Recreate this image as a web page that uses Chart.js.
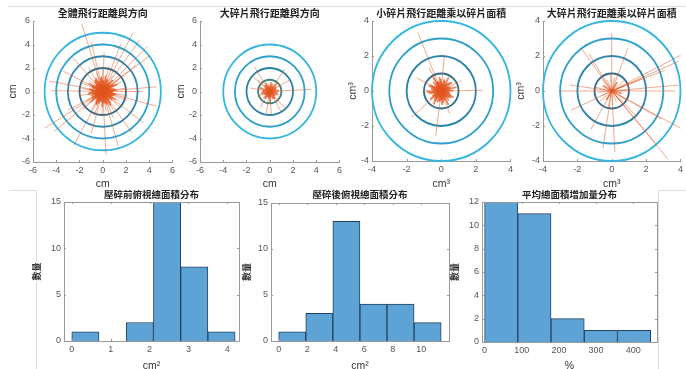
<!DOCTYPE html>
<html><head><meta charset="utf-8">
<script src="https://cdn.jsdelivr.net/npm/chart.js@4.4.0/dist/chart.umd.min.js"></script>
<style>
html,body{margin:0;padding:0;background:#fff;width:686px;height:369px;overflow:hidden;position:relative}
canvas{position:absolute}
.ln{position:absolute;background:#dedede}
</style></head><body>
<div class="ln" style="left:8px;top:6px;width:678px;height:1px"></div>
<div class="ln" style="left:9px;top:190px;width:27px;height:1px"></div>
<div class="ln" style="left:658px;top:190px;width:28px;height:1px"></div>
<div class="ln" style="left:36px;top:190px;width:1px;height:179px"></div>
<div class="ln" style="left:658px;top:190px;width:1px;height:179px"></div>
<canvas id="p1" width="178" height="190" style="left:0px;top:0px"></canvas>
<canvas id="p2" width="171" height="190" style="left:174px;top:0px"></canvas>
<canvas id="p3" width="172" height="190" style="left:344px;top:0px"></canvas>
<canvas id="p4" width="172" height="190" style="left:514px;top:0px"></canvas>
<canvas id="h1" width="214" height="186" style="left:30px;top:186px"></canvas>
<canvas id="h2" width="214" height="186" style="left:240px;top:186px"></canvas>
<canvas id="h3" width="215" height="186" style="left:447px;top:186px"></canvas>
<script>
// ---------- titles ----------
const roseTitles = ['全體飛行距離與方向','大碎片飛行距離與方向','小碎片飛行距離乘以碎片面積','大碎片飛行距離乘以碎片面積'];
const roseXLabels = ['cm','cm','cm³','cm³'];
const roseYLabels = ['cm','cm','cm³','cm³'];
const roseLimits = [6, 6, 4, 4];

// ring radii per panel
const rings1 = [2, 3, 4, 5];
const rings2 = [1, 2, 3, 4];
const rings3 = [1, 2, 3, 4];
const rings4 = [1, 2, 3, 4];

// rays: direction (deg) and length per panel
const ang1 = [3,12,22,31,44,52,63,71,84,95,103,114,125,133,146,154,167,176,185,196,204,215,226,233,244,255,264,273,286,295,304,313,324,333,345,354,
  7,17,26,35,48,57,67,79,89,99,109,118,129,138,150,160,171,181,190,200,209,220,230,239,248,259,268,278,290,299,308,318,328,338,349,358,
  8,27,38,58,76,90,108,121,140,158,172,190,210,222,238,250,268,280,292,300,318,330,340,350,
  107.5,103,88,69,62.5,54,45,37,38,5,0,169,179,153,132,212,219,208,241.5,254.5,273,286,305.5,323,345];
const len1 = [0.9,1.1,0.7,1.2,0.8,1.0,0.6,1.1,0.9,1.3,0.7,1.0,1.2,0.8,0.9,1.1,0.6,1.0,1.2,0.9,0.7,1.1,0.8,1.0,1.3,0.9,0.6,1.0,1.1,0.8,1.2,0.7,1.0,0.9,1.1,0.8,
  1.2,0.9,1.4,1.0,1.3,0.8,1.1,1.4,1.0,1.2,0.9,1.3,1.1,0.8,1.4,1.0,1.2,0.9,1.3,1.1,1.0,1.4,0.8,1.2,1.1,0.9,1.3,1.0,1.2,1.4,0.9,1.1,1.3,1.0,1.2,0.9,
  2.0,1.8,2.3,1.6,2.2,1.9,1.7,2.4,1.5,2.1,1.8,2.0,1.6,2.3,1.9,2.2,2.1,1.7,2.4,1.8,2.0,1.6,2.2,1.9,
  6.0,4.3,3.3,4.3,5.6,5.4,5.4,5.1,3.6,4.6,3.4,4.7,4.4,3.8,3.9,5.9,5.4,3.4,5.2,3.7,5.4,4.8,4.3,4.4,4.8];

const ang2 = [5,25,48,70,92,115,136,160,182,205,228,250,272,295,318,340,
  15,37,59,81,103,126,148,171,193,216,239,261,283,306,329,350,
  122,139,135,56,30,3,313,300,261,274,202,170,239];
const len2 = [0.8,0.6,0.9,0.7,0.5,0.8,0.6,0.9,0.7,0.6,0.8,0.5,0.9,0.7,0.6,0.8,
  0.6,0.7,0.5,0.8,0.6,0.7,0.5,0.6,0.8,0.5,0.7,0.6,0.5,0.8,0.6,0.7,
  2.5,2.1,1.4,2.3,2.0,3.6,1.9,2.0,2.0,2.1,1.1,1.7,1.6];

const ang3 = [2,14,27,38,50,61,75,86,98,110,121,133,146,157,169,181,193,204,216,228,239,251,263,274,286,298,309,321,333,345,
  8,20,32,44,56,68,80,92,104,116,127,139,151,163,175,187,199,210,222,234,245,257,269,280,292,304,315,327,339,351,
  112,85,1,221,263,152,118,27,291];
const len3 = [0.7,0.9,0.5,0.8,0.6,0.9,0.7,0.5,0.8,0.6,0.9,0.7,0.5,0.8,0.6,0.9,0.7,0.5,0.8,0.6,0.9,0.7,0.6,0.8,0.5,0.9,0.7,0.6,0.8,0.5,
  0.5,0.6,0.4,0.7,0.5,0.6,0.4,0.7,0.5,0.6,0.5,0.4,0.7,0.6,0.5,0.8,0.4,0.6,0.5,0.7,0.4,0.6,0.5,0.7,0.6,0.4,0.5,0.7,0.6,0.5,
  3.6,2.1,2.4,2.3,2.6,1.6,1.5,1.3,1.4];

const ang4 = [4,22,40,58,77,95,113,131,149,167,185,203,221,239,257,275,293,311,329,347,
  27,23.5,21,22,5,0,332,310,310.5,331,261,273,180,172,126,122,90,69,205,241,315];
const len4 = [0.9,0.7,1.0,0.6,0.8,1.0,0.7,0.9,0.6,1.0,0.8,0.7,0.9,0.6,1.0,0.8,0.7,0.9,1.0,0.6,
  4.6,4.25,3.3,1.9,3.9,3.7,4.65,5.1,3.9,3.3,3.3,3.5,3.1,2.5,3.0,2.5,3.3,2.6,2.6,2.5,2.1];

// ---------- histograms ----------
const histTitles = ['壓碎前俯視總面積分布','壓碎後俯視總面積分布','平均總面積增加量分布'];
const histXLabels = ['cm²','cm²','%'];
const histYLabel = '數量';
const bins1 = [0.35, 1.05, 1.75, 2.45, 3.15, 3.85];
const counts1 = [1, 0, 2, 15, 8, 1];
const bins2 = [0.95, 2.85, 4.75, 6.65, 8.55, 10.45];
const counts2 = [1, 3, 13, 4, 4, 2];
const bins3 = [44.7, 134.1, 223.5, 312.9, 402.3];
const counts3 = [12, 11, 2, 1, 1];

// ---------- styling ----------
const CJK = '"Noto Sans CJK TC","Noto Sans CJK SC",sans-serif';
const NUM = '"Liberation Sans","DejaVu Sans",sans-serif';
const tickColor = '#555';
const axisColor = '#9a9a9a';
const rayColor = 'rgba(224,88,34,0.5)';
const coreColor = 'rgba(226,84,30,0.7)';
const ringColors = {
  p1: ['#2e6e8e','#2b88b3','#2ea3cf','#35b5e0'],
  p2: ['#3f807a','#2b80a9','#2ea0cc','#35b5e0'],
  p3: ['#2c6d8e','#2a84ad','#2e9fcb','#35b5e0'],
  p4: ['#2c6d8e','#2a84ad','#2e9fcb','#35b5e0']
};

const ringPlugin = {
  id: 'rings',
  beforeDatasetsDraw(chart) {
    const o = chart.options.plugins.rings;
    if (!o) return;
    const {ctx, scales:{x, y}} = chart;
    const cx = x.getPixelForValue(0), cy = y.getPixelForValue(0);
    ctx.save();
    o.radii.forEach((r, i) => {
      const rx = Math.abs(x.getPixelForValue(r) - cx);
      const ry = Math.abs(y.getPixelForValue(r) - cy);
      ctx.beginPath();
      ctx.ellipse(cx, cy, rx, ry, 0, 0, Math.PI * 2);
      ctx.strokeStyle = o.colors[i];
      ctx.lineWidth = 1.8;
      ctx.stroke();
    });
    ctx.restore();
  }
};

const tickMarkPlugin = {
  id: 'tickmarks',
  afterDraw(chart) {
    const o = chart.options.plugins.tickmarks;
    if (!o) return;
    const {ctx, chartArea:a, scales:{x, y}} = chart;
    ctx.save();
    ctx.strokeStyle = axisColor;
    ctx.lineWidth = 1;
    if (o.box) {
      ctx.strokeRect(Math.round(a.left)+0.5, Math.round(a.top)+0.5, Math.round(a.right-a.left), Math.round(a.bottom-a.top));
    }
    ctx.beginPath();
    x.ticks.forEach(t => {
      const px = Math.round(x.getPixelForValue(t.value)) + 0.5;
      ctx.moveTo(px, a.bottom); ctx.lineTo(px, a.bottom - 2);
      if (o.box) { ctx.moveTo(px, a.top); ctx.lineTo(px, a.top + 2); }
    });
    y.ticks.forEach(t => {
      const py = Math.round(y.getPixelForValue(t.value)) + 0.5;
      ctx.moveTo(a.left, py); ctx.lineTo(a.left + 2, py);
      if (o.box) { ctx.moveTo(a.right, py); ctx.lineTo(a.right - 2, py); }
    });
    ctx.stroke();
    ctx.restore();
  }
};

function axisCommon(min, max, step, label, fitSize, isX, titlePad) {
  const isCJK = label === histYLabel;
  return {
    type: 'linear', min, max, offset: false,
    ticks: {stepSize: step, includeBounds: false, color: tickColor, font: {family: NUM, size: 9}, padding: 3, maxRotation: 0, autoSkip: false},
    grid: {display: false, drawTicks: false},
    border: {display: true, color: axisColor, width: 1},
    title: {display: true, text: label, color: '#333',
            font: {family: isCJK ? CJK : NUM, size: isCJK ? 9 : 10.5, weight: isCJK ? 'bold' : 'normal', lineHeight: 1.2},
            padding: isX ? {top: 0, bottom: titlePad} : {top: titlePad, bottom: 0}},
    afterFit(s) { if (isX) s.height = fitSize; else s.width = fitSize; }
  };
}

function makeRose(id, idx, rings, angs, lens, canvasW, canvasH, plot, ylabPad, coreMax) {
  const lim = roseLimits[idx];
  const datasets = angs.map((a, i) => ({
    data: [{x: 0, y: 0}, {x: lens[i] * Math.cos(a * Math.PI / 180), y: lens[i] * Math.sin(a * Math.PI / 180)}],
    showLine: true,
    borderColor: lens[i] <= coreMax ? coreColor : rayColor,
    borderWidth: lens[i] <= coreMax ? 1.7 : 1,
    pointRadius: 0, fill: false
  }));
  new Chart(document.getElementById(id), {
    type: 'scatter',
    data: {datasets},
    options: {
      responsive: false, animation: false, events: [],
      layout: {padding: {left: 0, right: canvasW - plot.R, top: 0, bottom: 0}},
      plugins: {
        legend: {display: false}, tooltip: {enabled: false},
        title: {display: true, text: roseTitles[idx], fullSize: false, color: '#222',
                font: {family: CJK, size: 10, weight: 'bold', lineHeight: 1.2}, padding: {top: 7, bottom: plot.T - 19}},
        rings: {radii: rings, colors: ringColors[id]},
        tickmarks: {box: false}
      },
      scales: {
        x: axisCommon(-lim, lim, 2, roseXLabels[idx], canvasH - plot.B, true, 0),
        y: axisCommon(-lim, lim, 2, roseYLabels[idx], plot.L, false, ylabPad)
      }
    },
    plugins: [ringPlugin, tickMarkPlugin]
  });
}

makeRose('p1', 0, rings1, ang1, len1, 178, 190, {L: 33, T: 21, R: 173, B: 162}, 7, 1.45);
makeRose('p2', 1, rings2, ang2, len2, 171, 190, {L: 26, T: 21, R: 166, B: 162}, 1, 0.95);
makeRose('p3', 2, rings3, ang3, len3, 172, 190, {L: 28, T: 21, R: 167, B: 161}, 3, 0.95);
makeRose('p4', 3, rings4, ang4, len4, 172, 190, {L: 29, T: 21, R: 167, B: 161}, 1, 0.6);

function makeHist(id, idx, bins, counts, xmin, xmax, xstep, ymax, ystep, canvasW, canvasH, plot, ylabPad) {
  new Chart(document.getElementById(id), {
    type: 'bar',
    data: {datasets: [{
      data: bins.map((b, i) => ({x: b, y: counts[i]})),
      backgroundColor: 'rgb(94,163,214)', borderColor: 'rgb(38,66,96)', borderWidth: 1,
      barPercentage: 1, categoryPercentage: 1
    }]},
    options: {
      responsive: false, animation: false, events: [],
      layout: {padding: {left: 0, right: canvasW - plot.R, top: 0, bottom: 0}},
      plugins: {
        legend: {display: false}, tooltip: {enabled: false},
        title: {display: true, text: histTitles[idx], fullSize: false, color: '#222',
                font: {family: CJK, size: 9.5, weight: 'bold', lineHeight: 1.2}, padding: {top: 3, bottom: plot.T - 14.4}},
        tickmarks: {box: true}
      },
      scales: {
        x: axisCommon(xmin, xmax, xstep, histXLabels[idx], canvasH - plot.B, true, 0),
        y: Object.assign(axisCommon(0, ymax, ystep, histYLabel, plot.L, false, ylabPad), {beginAtZero: true})
      }
    },
    plugins: [tickMarkPlugin]
  });
}

makeHist('h1', 0, bins1, counts1, -0.2, 4.3, 1, 15, 5, 214, 186, {L: 34, T: 16, R: 209, B: 155}, 1.6);
makeHist('h2', 1, bins2, counts2, -0.54, 11.95, 2, 15, 5, 214, 186, {L: 31, T: 17, R: 209, B: 155}, 1.6);
makeHist('h3', 2, bins3, counts3, -7, 464, 100, 12, 2, 215, 186, {L: 35, T: 16, R: 210, B: 156}, 2.6);
</script>
</body></html>
